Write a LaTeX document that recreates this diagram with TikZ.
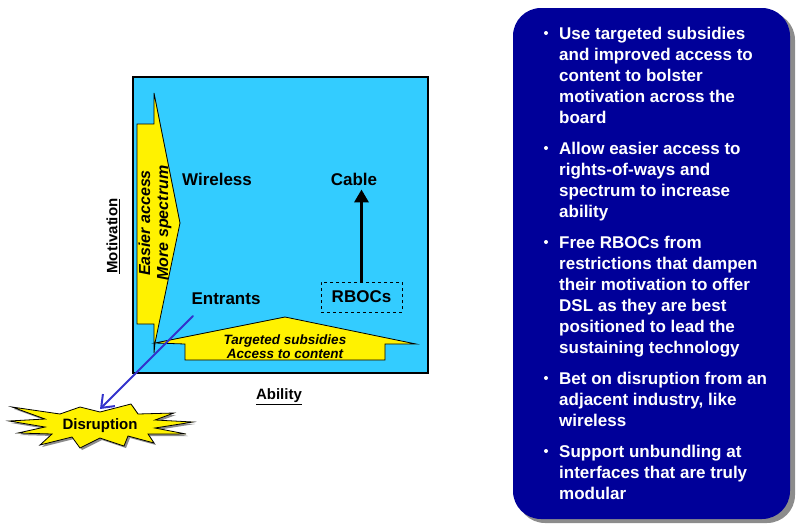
\documentclass[tikz,border=0pt]{standalone}
\usepackage{fontspec}
\setmainfont{Liberation Sans}
\usetikzlibrary{arrows.meta}
\definecolor{skyfill}{HTML}{33CCFF}
\definecolor{navypanel}{HTML}{000099}
\definecolor{linkblue}{HTML}{3333CC}
\definecolor{shadowgrey}{HTML}{8C8C8C}
\begin{document}
\begin{tikzpicture}[x=1pt,y=-1pt,
  lbl/.style={font=\fontsize{17}{20}\selectfont\bfseries, inner sep=0pt},
  axislbl/.style={font=\fontsize{15}{18}\selectfont\bfseries, inner sep=0pt},
  arrowtxt/.style={font=\fontsize{#1}{#1}\selectfont\bfseries\itshape, inner sep=0pt, align=center},
  yarrow/.style={fill=yellow, draw=black, line width=0.8pt, line join=miter},
  bullettxt/.style={anchor=base west, inner sep=0pt, text=white,
    font=\fontsize{17}{21}\selectfont\bfseries},
  bulletdot/.style={fill=white},
]
\useasboundingbox (0,0) rectangle (796,523);

% ability / motivation field
\draw[fill=skyfill, line width=2.5pt] (133,77) rectangle (428,373);

% policy push arrows
\draw[yarrow] (155,343) -- (285,317) -- (416,344) -- (385,344) -- (385,360)
  -- (185,360) -- (185,344) -- cycle;
\draw[yarrow] (154,93) -- (180,223) -- (155,343) -- (154,353) -- (154,324)
  -- (137,324) -- (137,124) -- (154,124) -- cycle;
\node[arrowtxt=16, rotate=90, font=\fontsize{16}{18}\selectfont\bfseries\itshape]
  (push-up) at (155,223) {Easier access\\More spectrum};
\node[arrowtxt=13.5] (push-right) at (285,346.5) {Targeted subsidies\\Access to content};

% players
\node[lbl] (wireless) at (217,179) {Wireless};
\node[lbl] (entrants) at (226,299) {Entrants};
\node[lbl, inner sep=4pt] (cable) at (354,179) {Cable};
\node[lbl, draw, dashed, line width=0.8pt, minimum width=81pt, minimum height=30pt]
  (rbocs) at (361.5,297) {RBOCs};
\draw[line width=3.5pt, -{Triangle[length=13pt,width=14pt]}]
  (rbocs.north) -- (rbocs.north |- cable.south);

% axis titles
\node[axislbl, rotate=90] (motivation) at (113,236) {\underline{Motivation}};
\node[axislbl] (ability) at (279,397) {\underline{Ability}};

% disruption burst
\coordinate (entr-foot) at (193,316);
\coordinate (burst-top) at (100,409);
\begin{scope}[shift={(2,2)}]
\fill[shadowgrey] (12,407) -- (60,414) -- (80,407) -- (100,412) -- (131,404) -- (138,414)
  -- (174,413) -- (155,420) -- (193,422) -- (155,428) -- (186,434) -- (148,434)
  -- (154,443) -- (128,436) -- (124,446) -- (100,438) -- (80,448) -- (72,437)
  -- (40,445) -- (52,434) -- (18,433) -- (45,427) -- (9,421) -- (45,419) -- cycle;
\end{scope}
\draw[fill=yellow, line width=0.8pt] (12,407) -- (60,414) -- (80,407) -- (100,412) -- (131,404) -- (138,414)
  -- (174,413) -- (155,420) -- (193,422) -- (155,428) -- (186,434) -- (148,434)
  -- (154,443) -- (128,436) -- (124,446) -- (100,438) -- (80,448) -- (72,437)
  -- (40,445) -- (52,434) -- (18,433) -- (45,427) -- (9,421) -- (45,419) -- cycle;
\node[axislbl] (disruption) at (100,426) {Disruption};
\draw[linkblue, line width=2pt, line cap=round,
  -{Straight Barb[length=11pt,width=17pt,line width=2pt]}] (entr-foot) -- (burst-top);

% recommendations panel
\fill[shadowgrey, rounded corners=28pt] (517,12) rectangle (795,523);
\fill[navypanel, rounded corners=28pt] (513,8) rectangle (790,519);

\node[bullettxt] (b1) at (559,39) {\parbox[t]{225pt}{\raggedright
  Use targeted subsidies\\and improved access to\\content to bolster\\motivation across the\\board}};
\node[bullettxt] (b2) at (559,154) {\parbox[t]{225pt}{\raggedright
  Allow easier access to\\rights-of-ways and\\spectrum to increase\\ability}};
\node[bullettxt] (b3) at (559,248) {\parbox[t]{225pt}{\raggedright
  Free RBOCs from\\restrictions that dampen\\their motivation to offer\\DSL as they are best\\positioned to lead the\\sustaining technology}};
\node[bullettxt] (b4) at (559,384) {\parbox[t]{225pt}{\raggedright
  Bet on disruption from an\\adjacent industry, like\\wireless}};
\node[bullettxt] (b5) at (559,457) {\parbox[t]{225pt}{\raggedright
  Support unbundling at\\interfaces that are truly\\modular}};
\foreach \yb in {39,154,248,384,457}
  \fill[bulletdot] (546,\yb-6) circle (2pt);
\end{tikzpicture}
\end{document}
